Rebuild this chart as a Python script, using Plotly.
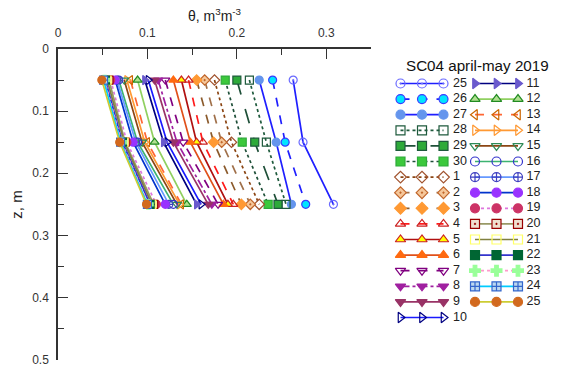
import plotly.graph_objects as go

# Soil-moisture profiles, station SC04, 25 April - 25 May 2019
depths = [0.05, 0.15, 0.25]

days = ["25", "26", "27", "28", "29", "30",
        "1", "2", "3", "4", "5", "6", "7", "8", "9", "10",
        "11", "12", "13", "14", "15", "16", "17", "18", "19", "20",
        "21", "22", "23", "24", "25"]

theta_005 = [0.263, 0.240, 0.225, 0.214, 0.200, 0.187,
             0.175, 0.164, 0.155, 0.146, 0.138, 0.129, 0.120, 0.112, 0.108, 0.101,
             0.097, 0.089, 0.081, 0.077, 0.074, 0.068, 0.066, 0.064, 0.059, 0.057,
             0.055, 0.053, 0.052, 0.051, 0.049]
theta_015 = [0.274, 0.254, 0.244, 0.233, 0.220, 0.206,
             0.194, 0.183, 0.174, 0.162, 0.155, 0.148, 0.140, 0.133, 0.129, 0.122,
             0.118, 0.108, 0.100, 0.097, 0.094, 0.089, 0.087, 0.084, 0.077, 0.075,
             0.074, 0.072, 0.071, 0.070, 0.069]
theta_025 = [0.308, 0.277, 0.261, 0.255, 0.246, 0.235,
             0.225, 0.215, 0.205, 0.196, 0.190, 0.185, 0.179, 0.172, 0.168, 0.160,
             0.155, 0.144, 0.138, 0.136, 0.133, 0.129, 0.124, 0.120, 0.110, 0.107,
             0.105, 0.103, 0.101, 0.100, 0.099]

# (line colour, dash, marker symbol, marker fill, marker outline)
styles = [
    ("#1f1fff", "solid", "circle-open-dot", "#6a6aff", "#6a6aff"),
    ("#1f1fff", "dash", "circle", "#00e5ff", "#3a3aff"),
    ("#1f1fff", "solid", "circle", "#6495ed", "#6495ed"),
    ("#1e5a3c", "dot", "square-open", "#1e5a3c", "#1e5a3c"),
    ("#1e4f38", "longdash", "square", "#2eaa3a", "#1e5a3c"),
    ("#1e4f38", "dot", "square", "#3cc83c", "#2eaa3a"),
    ("#8b4513", "dot", "diamond-open", "#a0522d", "#a0522d"),
    ("#a0704a", "dash", "diamond-dot", "#f5c79a", "#c0652a"),
    ("#8b5a2b", "dash", "diamond", "#ff9933", "#ff9933"),
    ("#ff1a1a", "dash", "triangle-up-open", "#cc2222", "#cc2222"),
    ("#b01010", "solid", "triangle-up", "#ffff00", "#cc2222"),
    ("#e0501a", "solid", "triangle-up", "#ff6a10", "#ff6a10"),
    ("#800080", "dash", "triangle-down-open", "#800080", "#800080"),
    ("#a020a0", "dashdot", "triangle-down", "#a020a0", "#a020a0"),
    ("#993366", "solid", "triangle-down", "#993366", "#993366"),
    ("#1a1aff", "solid", "triangle-right-open", "#000080", "#000080"),
    ("#000080", "solid", "triangle-right", "#6a5acd", "#6a5acd"),
    ("#90d060", "solid", "triangle-up", "#b0e090", "#228b22"),
    ("#ff6633", "dash", "triangle-left-open", "#cc6600", "#cc6600"),
    ("#ff9933", "solid", "triangle-right-open", "#ff9933", "#ff9933"),
    ("#8b4513", "solid", "triangle-down-open", "#2e8b57", "#2e8b57"),
    ("#3cb371", "solid", "circle-open", "#3333cc", "#3333cc"),
    ("#6699ff", "solid", "circle-cross-open", "#4040c0", "#4040c0"),
    ("#0033cc", "solid", "circle", "#9933ff", "#9933ff"),
    ("#dd77dd", "dot", "circle", "#cc3366", "#cc3366"),
    ("#999966", "solid", "square-dot", "#f0e0d0", "#990000"),
    ("#808040", "solid", "square-open", "#ffff66", "#ffff66"),
    ("#3333cc", "solid", "square", "#006633", "#006633"),
    ("#ff99cc", "dot", "cross", "#99ff99", "#99ff99"),
    ("#00ccff", "solid", "square-cross", "#bcd8f0", "#3366cc"),
    ("#cccc33", "solid", "circle", "#d2691e", "#d2691e"),
]

FONT = "Liberation Sans, Arial, sans-serif"

# Figure geometry (pixels): plot panel on the left, two-column key on the right
W, H = 566, 365
M_L, M_T, M_B = 58, 49, 5
PANEL_RIGHT = 371
split = (PANEL_RIGHT - M_L) / (W - M_L)

# Key layout in the key axes' pixel-like units
KEY_ROWS = 16
KEY_TOP, KEY_STEP = 83.5, 15.6
KEY_SAMPLE_X = [[400.5, 422, 443.5], [475, 496.5, 518]]
KEY_LABEL_X = [453, 526.5]

fig = go.Figure()
for i, day in enumerate(days):
    lc, dash, sym, fill, edge = styles[i]
    line = dict(color=lc, width=1.7, dash=dash)
    # depth profile
    fig.add_trace(go.Scatter(
        x=[theta_005[i], theta_015[i], theta_025[i]],
        y=depths,
        mode="lines+markers", name=day, showlegend=False,
        line=line,
        marker=dict(symbol=sym, size=8, color=fill, line=dict(color=edge, width=1.2)),
        xaxis="x", yaxis="y",
    ))
    # key entry
    col, row = divmod(i, KEY_ROWS)
    ky = KEY_TOP + row * KEY_STEP
    fig.add_trace(go.Scatter(
        x=KEY_SAMPLE_X[col], y=[ky] * 3,
        mode="lines+markers", showlegend=False, hoverinfo="skip",
        line=line,
        marker=dict(symbol=sym, size=9, color=fill, line=dict(color=edge, width=1.2)),
        xaxis="x2", yaxis="y2",
    ))
    fig.add_trace(go.Scatter(
        x=[KEY_LABEL_X[col]], y=[ky], text=[day],
        mode="text", textposition="middle right", showlegend=False, hoverinfo="skip",
        textfont=dict(family=FONT, size=12.5, color="#222222"),
        xaxis="x2", yaxis="y2",
    ))

axis_font = dict(family=FONT, size=12, color="#333333")

fig.update_layout(
    width=W, height=H,
    margin=dict(l=M_L, r=0, t=M_T, b=M_B, autoexpand=False),
    paper_bgcolor="white", plot_bgcolor="rgba(0,0,0,0)",
    font=axis_font,
    showlegend=False,
    xaxis=dict(
        domain=[0, split],
        side="top", range=[0, 0.35], dtick=0.1, tick0=0,
        ticks="inside", ticklen=10, tickwidth=1.2, tickcolor="#333333",
        minor=dict(dtick=0.05, ticks="inside", ticklen=6, tickcolor="#333333"),
        showline=True, linecolor="#333333", linewidth=1.5,
        showgrid=False, zeroline=False,
        tickfont=axis_font, ticklabelstandoff=5,
        title=dict(text="θ, m<sup>3</sup>m<sup>-3</sup>",
                   font=dict(family=FONT, size=14, color="#222222"),
                   standoff=2),
    ),
    yaxis=dict(
        range=[0.5005, 0], dtick=0.1, tick0=0,
        ticks="inside", ticklen=10, tickwidth=1.2, tickcolor="#333333",
        minor=dict(dtick=0.05, ticks="inside", ticklen=6, tickcolor="#333333"),
        showline=True, linecolor="#333333", linewidth=1.5,
        showgrid=False, zeroline=False,
        tickfont=axis_font, ticklabelstandoff=5, ticklabeloverflow="allow",
        title=dict(text="z, m",
                   font=dict(family=FONT, size=15, color="#222222"),
                   standoff=6),
    ),
    xaxis2=dict(domain=[split, 1], range=[PANEL_RIGHT, W], visible=False,
                fixedrange=True),
    yaxis2=dict(domain=[0, 1], range=[H - M_B, M_T], visible=False,
                fixedrange=True, anchor="x2"),
    annotations=[dict(
        text="SC04 april-may 2019", xref="x2", yref="y2",
        x=477, y=65, xanchor="center", yanchor="middle", showarrow=False,
        font=dict(family=FONT, size=15.2, color="#111111"),
    )],
)

fig.write_html("out.html")
